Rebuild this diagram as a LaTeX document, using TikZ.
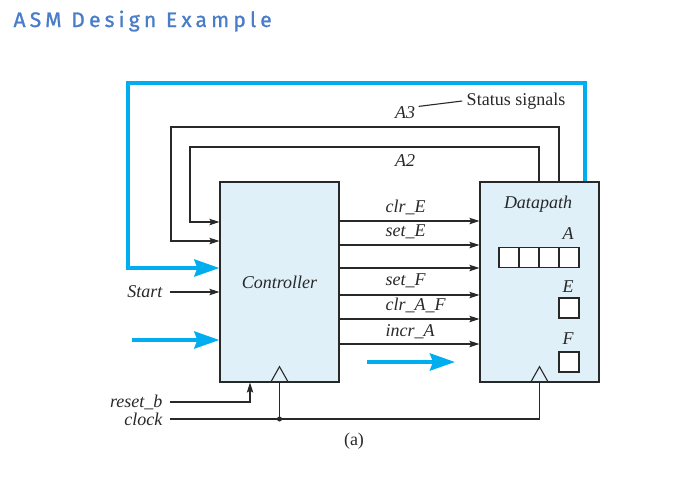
\documentclass[tikz,border=0pt]{standalone}
\usepackage{fontspec}
\setmainfont{Liberation Serif}
\newfontfamily\titlefont[LetterSpace=20,FakeBold=1.2]{Fira Sans}
\usetikzlibrary{arrows.meta,shapes}
\definecolor{busblue}{RGB}{0,174,239}
\definecolor{blockfill}{RGB}{223,240,249}
\definecolor{titleblue}{RGB}{74,125,201}
\definecolor{wire}{RGB}{40,40,40}

\begin{document}
\begin{tikzpicture}[x=1pt,y=-1pt,>={Stealth[length=10pt,width=6.5pt,inset=2pt]},
                    line width=1.1pt,draw=wire,
                    txt/.style={font=\fontsize{18}{20}\selectfont\itshape,inner sep=0pt,text=wire},
                    rm/.style={font=\fontsize{18}{20}\selectfont,inner sep=0pt,text=wire},
                    block/.style={draw=wire,line width=1.3pt,fill=blockfill,minimum width=119pt,
                                  minimum height=200pt,inner sep=0pt},
                    reg/.style={draw=wire,line width=1.4pt,fill=white,minimum size=20pt,inner sep=0pt},
                    bus/.style={busblue,line width=4pt,-{Stealth[length=25pt,width=17pt,inset=3pt]}}]

  \useasboundingbox (0,0) rectangle (678,477);

  \node[anchor=base west,inner sep=0pt,text=titleblue,
        font=\titlefont\fontsize{21}{24}\selectfont] (title) at (13,27) {ASM Design Example};

  % the two blocks
  \node[block,txt] (ctrl) at (279.5,282) {Controller};
  \node[block]     (dp)   at (539.5,282) {};
  \node[txt] (dpname) at (538,204) {Datapath};

  % registers in the datapath
  \node[txt] (alab) at (568,234) {A};
  \foreach \i in {0,...,3}
    \node[reg] (a\i) at (509+20*\i,257.5) {};
  \node[txt] (elab) at (568,287) {E};
  \node[reg] (e) at (569,308) {};
  \node[txt] (flab) at (568,339) {F};
  \node[reg] (f) at (569,362) {};

  % clock inputs
  \draw[wire] (ctrl.south) ++(-9,0) -- ++(9,-16) -- ++(9,16);
  \draw[wire] (dp.south) ++(-9,0) -- ++(9,-16) -- ++(9,16);

  % control signals
  \foreach \y in {221,245,268,295,319,344}
    \draw[wire,->] (ctrl.east |- 0,\y) -- (dp.west |- 0,\y);
  \node[txt,anchor=base west] (clrE)  at (385,212) {clr\_E};
  \node[txt,anchor=base west] (setE)  at (385,236) {set\_E};
  \node[txt,anchor=base west] (setF)  at (385,285) {set\_F};
  \node[txt,anchor=base west] (clrAF) at (385,310) {clr\_A\_F};
  \node[txt,anchor=base west] (incrA) at (385,336) {incr\_A};

  % status signals
  \draw[wire,->] (539,0 |- dp.north) |- (190,147) |- (0,222 -| ctrl.west);
  \draw[wire,->] (559,0 |- dp.north) |- (171,127) |- (0,241 -| ctrl.west);
  \node[txt] (a2) at (405,161) {A2};
  \node[txt] (a3) at (405,113) {A3};
  \node[rm]  (stat) at (516,101) {Status signals};
  \draw[wire] ([xshift=3pt]a3.north east) -- ([xshift=-4pt]stat.west);

  % blue flow arrows
  \draw[bus] ([xshift=45.5pt]dp.north) |- (128,83) |- (0,268 -| ctrl.west);
  \coordinate (inl) at (132,340);
  \draw[bus] (inl) -- (inl -| ctrl.west);
  \coordinate (mid0) at (367,362);
  \coordinate (mid1) at (455,362);
  \draw[bus] (mid0) -- (mid1);

  % external inputs
  \node[txt,anchor=east] (start) at (163,292) {Start};
  \draw[wire,->] ([xshift=7pt]start.east) -- (start.east -| ctrl.west);
  \node[txt,anchor=east] (rst) at (163,402) {reset\_b};
  \draw[wire,->] ([xshift=7pt]rst.east) -| ([xshift=-29.5pt]ctrl.south);
  \node[txt,anchor=east] (clk) at (163,419) {clock};
  \draw[wire] ([xshift=7pt]clk.east) -| (dp.south);
  \coordinate (jn) at (ctrl.south |- clk.east);
  \draw[wire] (jn) -- (ctrl.south);
  \fill[wire] (jn) circle (2.5pt);

  \node[rm] (cap) at (354,441) {(a)};
\end{tikzpicture}
\end{document}
